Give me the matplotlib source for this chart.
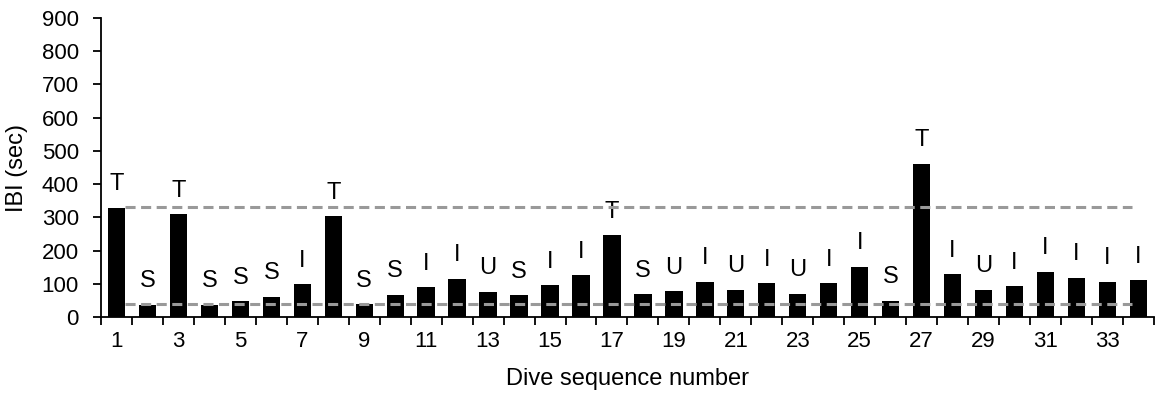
import matplotlib
matplotlib.use("Agg")
import matplotlib.pyplot as plt
from matplotlib.ticker import FixedLocator

# IBI per dive
dives = list(range(1, 35))
ibi = [328, 37, 309, 36, 47, 60, 98, 303, 38, 66,
       89, 115, 75, 65, 95, 126, 246, 68, 77, 106,
       81, 101, 70, 101, 151, 48, 462, 128, 81, 92,
       136, 118, 106, 110]
codes = ["T", "S", "T", "S", "S", "S", "I", "T", "S", "S",
         "I", "I", "U", "S", "I", "I", "T", "S", "U", "I",
         "U", "I", "U", "I", "I", "S", "T", "I", "U", "I",
         "I", "I", "I", "I"]
ref_levels = [332, 38]

plt.rcParams["font.family"] = ["Liberation Sans", "DejaVu Sans"]

fig = plt.figure(figsize=(11.57, 3.96), dpi=100)
ax = fig.add_axes([0.0873, 0.1995, 0.910, 0.755])

pos = list(range(len(dives)))
ax.bar(pos, ibi, width=0.56, color="black", zorder=2)

for p, v, c in zip(pos, ibi, codes):
    ax.annotate(c, (p, v), xytext=(0, 17), textcoords="offset points",
                ha="center", va="center", fontsize=17)

for lvl in ref_levels:
    ax.plot([0.28, 32.8], [lvl, lvl], color="#999999", lw=2.2,
            dashes=(3.3, 1.8), zorder=3)

ax.set_xlim(-0.5, len(dives) - 0.5)
ax.set_ylim(0, 900)
ax.set_yticks(range(0, 901, 100))

# ticks between categories, labels on every other bar
ax.xaxis.set_major_locator(FixedLocator([p - 0.5 for p in range(len(dives) + 1)]))
ax.xaxis.set_major_formatter(plt.NullFormatter())
ax.xaxis.set_minor_locator(FixedLocator(pos[::2]))
ax.set_xticklabels([str(d) for d in dives[::2]], minor=True)
ax.tick_params(axis="x", which="major", length=6, width=1.3, direction="out")
ax.tick_params(axis="x", which="minor", length=0, pad=10, labelsize=16)
ax.tick_params(axis="y", length=6, width=1.3, direction="out", labelsize=16, pad=10)

for s in ("top", "right"):
    ax.spines[s].set_visible(False)
for s in ("left", "bottom"):
    ax.spines[s].set_linewidth(1.3)

ax.set_xlabel("Dive sequence number", fontsize=17, labelpad=11.5)
ax.set_ylabel("IBI (sec)", fontsize=17, labelpad=10)

fig.savefig("out.png", dpi=100)
plt.close(fig)
